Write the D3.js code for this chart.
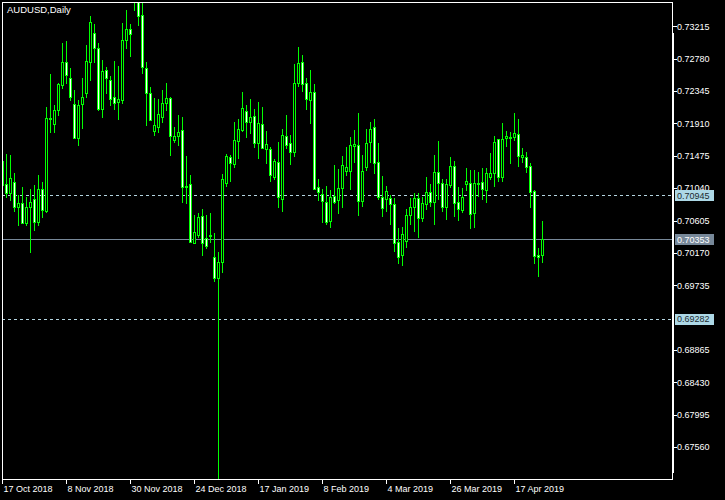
<!DOCTYPE html>
<html><head><meta charset="utf-8">
<script src="https://cdn.jsdelivr.net/npm/d3@7"></script>
<style>html,body{margin:0;padding:0;background:#000;overflow:hidden}</style>
</head><body>
<svg id="c" width="725" height="500"></svg>
<script>
const chartTitle = "AUDUSD,Daily";
const firstDay = "2018-10-17";
const holidays = ["2018-12-25", "2019-01-01"];
const opens = [.71405,.71096,.70971,.71119,.70791,.70836,.70568,.70791,.70890,.70589,.71025,.70737,.71966,.71902,.72090,.72427,.72732,.72517,.72167,.71710,
.72167,.72315,.72740,.73121,.72920,.72104,.72628,.72494,.72261,.72194,.72225,.73031,.73179,.73600,.73740,.73367,.72651,.72315,.71812,.71866,
.72000,.72181,.72248,.71687,.71745,.71822,.71069,.71096,.70307,.70410,.70666,.70366,.70397,.70111,.69828,.70043,.71113,.71455,.71365,.71678,
.71822,.72077,.71933,.72010,.71651,.71898,.71562,.71566,.71194,.71388,.70890,.71741,.71643,.71530,.72457,.72732,.72449,.72225,.72328,.71052,
.70957,.70850,.70603,.70935,.70881,.71038,.71275,.71275,.71607,.71620,.70871,.71328,.71664,.71858,.71388,.70917,.70890,.70904,.70827,.70312,
.70142,.70334,.70679,.70783,.70904,.70643,.70823,.70984,.70850,.71253,.71105,.70783,.71082,.71338,.70850,.70746,.71092,.71113,.70702,.71101,
.71119,.71015,.71194,.71240,.71697,.71194,.71710,.71714,.71732,.71764,.71465,.71455,.71338,.71002,.70135,.70142];
const highs = [.71450,.71499,.71486,.71240,.70948,.71052,.70925,.71025,.71082,.71217,.71127,.72127,.72574,.72158,.72457,.72987,.73018,.72651,.72359,.72225,
.72517,.72964,.73358,.73246,.72987,.72763,.72673,.72547,.72749,.72682,.73264,.73435,.73246,.73940,.73860,.73600,.72732,.72396,.72248,.72238,
.72359,.72449,.72269,.71866,.72023,.72000,.71472,.71217,.70679,.70702,.70760,.70679,.70702,.70433,.70178,.71230,.71499,.71486,.71933,.71970,
.72336,.72158,.72238,.72104,.72202,.72127,.71808,.71597,.71428,.71664,.71835,.72023,.71754,.72709,.72933,.72830,.72517,.72628,.72440,.71163,
.71029,.71073,.71015,.71351,.71297,.71476,.71597,.71732,.71822,.72054,.71486,.71835,.71933,.71970,.71643,.71203,.71069,.70948,.70904,.70500,
.70514,.70760,.70904,.70971,.70979,.70925,.71186,.71096,.71486,.71674,.71159,.71159,.71455,.71405,.71052,.71038,.71307,.71284,.71284,.71261,
.71315,.71307,.71509,.71741,.71697,.71912,.71808,.71791,.72054,.71970,.71576,.71522,.71374,.71015,.70232,.70599];
const lows = [.71000,.70925,.70881,.70737,.70545,.70576,.70545,.70186,.70478,.70545,.70656,.70724,.71799,.71799,.72023,.72382,.72449,.72225,.71710,.71620,
.71845,.72269,.72494,.72740,.72090,.72000,.72323,.72158,.72104,.71970,.72181,.72928,.72816,.73435,.73233,.72584,.71889,.71956,.71754,.71799,
.71933,.72090,.71486,.71664,.71620,.70858,.70836,.70320,.70299,.70388,.70142,.70232,.70320,.69796,.67144,.69917,.71073,.71136,.71328,.71449,
.71812,.71732,.71777,.71597,.71449,.71584,.71382,.71136,.71159,.70791,.70737,.71584,.71361,.71476,.72413,.72350,.72100,.71920,.71025,.70881,
.70589,.70558,.70522,.70836,.70702,.70783,.71217,.71025,.71396,.70679,.70804,.71284,.71396,.71248,.70890,.70666,.70737,.70558,.70199,.70038,
.70007,.70253,.70554,.70468,.70388,.70603,.70760,.70804,.70554,.70894,.70737,.70625,.71060,.70666,.70612,.70716,.71015,.70500,.70522,.70935,
.70894,.70858,.71163,.71069,.71136,.71136,.71611,.71374,.71687,.71342,.71396,.71261,.70791,.70030,.69863,.70043];
const closes = [.71082,.70971,.71172,.70791,.70836,.70576,.70791,.70850,.70589,.71025,.70746,.71979,.71987,.72090,.72436,.72732,.72561,.72261,.71710,.72158,
.72269,.72749,.73277,.72920,.72104,.72615,.72517,.72238,.72181,.72238,.73031,.73179,.73112,.73780,.73358,.72673,.72323,.71956,.71889,.72033,
.72181,.72248,.71741,.71741,.71791,.71060,.71052,.70320,.70447,.70656,.70299,.70267,.70417,.69828,.70043,.71163,.71476,.71374,.71687,.71835,
.72113,.71933,.71992,.71651,.71912,.71584,.71629,.71217,.71405,.70925,.71754,.71620,.71522,.72449,.72718,.72436,.72234,.72328,.71025,.70992,
.70871,.70589,.70925,.70858,.71038,.71351,.71320,.71620,.71627,.70871,.71271,.71643,.71835,.71374,.70917,.70769,.71006,.70823,.70299,.70119,
.70420,.70679,.70783,.70904,.70643,.70836,.70984,.70850,.71253,.71105,.70783,.71096,.71338,.70845,.70756,.70925,.71140,.70689,.71105,.71115,
.71025,.71248,.71240,.71664,.71194,.71697,.71741,.71728,.71777,.71476,.71479,.71320,.70992,.70132,.70121,.70353];
const priceTicks = [0.73215,0.72780,0.72345,0.71910,0.71475,0.71040,0.70605,0.70170,0.69735,0.68865,0.68430,0.67995,0.67560];
const dateTickLabels = ["17 Oct 2018","8 Nov 2018","30 Nov 2018","24 Dec 2018","17 Jan 2019","8 Feb 2019","4 Mar 2019","26 Mar 2019","17 Apr 2019"];
const bidPrice = 0.70353;
const levelPrices = [0.70945, 0.69282];
const priceMin = 0.671309, priceMax = 0.735421;

// trading-day categories (weekdays minus listed holidays)
const parse = d3.utcParse("%Y-%m-%d"), fmtKey = d3.utcFormat("%Y-%m-%d"), fmtLab = d3.utcFormat("%-d %b %Y");
const dates = [];
for (let d = parse(firstDay); dates.length < opens.length; d = d3.utcDay.offset(d, 1)) {
  const wd = d.getUTCDay();
  if (wd === 0 || wd === 6 || holidays.includes(fmtKey(d))) continue;
  dates.push(d);
}
const data = opens.map((o, i) => ({i, o, h: highs[i], l: lows[i], c: closes[i]}));

const L = 2, T = 2, R = 672, B = 479;
const svg = d3.select("#c");
svg.append("rect").attr("width", 725).attr("height", 500).attr("fill", "#000");

const x = d3.scaleBand().domain(d3.range(opens.length)).range([0.5, 0.5 + 4 * opens.length]).padding(0);
const cx = i => x(i) + x.bandwidth() / 2;
const y = d3.scaleLinear().domain([priceMin, priceMax]).range([B, T]);
const py = p => Math.round(y(p)) + 0.5;

svg.append("defs").append("clipPath").attr("id", "clip")
  .append("rect").attr("x", L + 1).attr("y", T + 1).attr("width", R - L - 1).attr("height", B - T - 1);

const plot = svg.append("g").attr("clip-path", "url(#clip)").attr("shape-rendering", "crispEdges");

// level lines
plot.selectAll("line.lvl").data(levelPrices).join("line")
  .attr("x1", L).attr("x2", R).attr("y1", d => py(d)).attr("y2", d => py(d))
  .attr("stroke", "#b4d4e0").attr("stroke-dasharray", "3,3");
plot.append("line").attr("x1", L).attr("x2", R).attr("y1", py(bidPrice)).attr("y2", py(bidPrice))
  .attr("stroke", "#778899");

// candles
const g = plot.selectAll("g.cdl").data(data).join("g");
g.append("line")
  .attr("x1", d => cx(d.i)).attr("x2", d => cx(d.i))
  .attr("y1", d => Math.round(y(d.h))).attr("y2", d => Math.round(y(d.l)) + 1)
  .attr("stroke", "#00ff00");
g.append("rect")
  .attr("x", d => cx(d.i) - 1).attr("width", 2)
  .attr("y", d => py(Math.max(d.o, d.c)))
  .attr("height", d => Math.max(0, py(Math.min(d.o, d.c)) - py(Math.max(d.o, d.c))))
  .attr("fill", d => d.c < d.o ? "#ffffff" : "#000000")
  .attr("stroke", "#00ff00");

// frame
const frame = svg.append("g").attr("shape-rendering", "crispEdges").attr("stroke", "#fff").attr("fill", "none");
frame.append("path").attr("d", `M${L+0.5},${B+0.5}V${T+0.5}H${R+0.5}V${B+0.5}H${L+0.5}`);
svg.append("rect").attr("x", R).attr("y", 33).attr("width", 2).attr("height", 440).attr("fill", "#fff");

const font = "'Liberation Sans', Arial, sans-serif";

// price axis
const ax = svg.append("g");
ax.selectAll("line").data(priceTicks).join("line")
  .attr("x1", R + 1).attr("x2", R + 5).attr("y1", d => py(d)).attr("y2", d => py(d))
  .attr("stroke", "#fff").attr("shape-rendering", "crispEdges");
ax.selectAll("text").data(priceTicks).join("text")
  .attr("x", R + 5).attr("y", d => y(d) + 3.3)
  .attr("fill", "#fff").attr("font-family", font).attr("font-size", "9px")
  .text(d => d.toFixed(5));

// price boxes
function box(p, fill, tc) {
  const yy = y(p);
  svg.append("rect").attr("x", R + 3).attr("y", Math.round(yy) - 5).attr("width", 39).attr("height", 11)
    .attr("fill", fill).attr("shape-rendering", "crispEdges");
  svg.append("text").attr("x", R + 5).attr("y", yy + 3.5).attr("fill", tc)
    .attr("font-family", font).attr("font-size", "9px").text(p.toFixed(5));
}
levelPrices.forEach(p => box(p, "#add8e6", "#1c2a30"));
box(bidPrice, "#778899", "#ffffff");

// date axis
const dticks = dateTickLabels.map(lab => ({lab, i: dates.findIndex(d => fmtLab(d) === lab)})).filter(t => t.i >= 0);
const dx = svg.append("g");
dx.selectAll("line").data(dticks).join("line")
  .attr("x1", d => cx(d.i)).attr("x2", d => cx(d.i)).attr("y1", B).attr("y2", B + 5)
  .attr("stroke", "#fff").attr("shape-rendering", "crispEdges");
dx.selectAll("text").data(dticks).join("text")
  .attr("x", d => cx(d.i) + 1).attr("y", B + 13)
  .attr("fill", "#fff").attr("font-family", font).attr("font-size", "9px")
  .text(d => d.lab);

// title
svg.append("text").attr("x", 7).attr("y", 13).attr("fill", "#fff")
  .attr("font-family", font).attr("font-size", "9.5px").text(chartTitle);
</script>
</body></html>
